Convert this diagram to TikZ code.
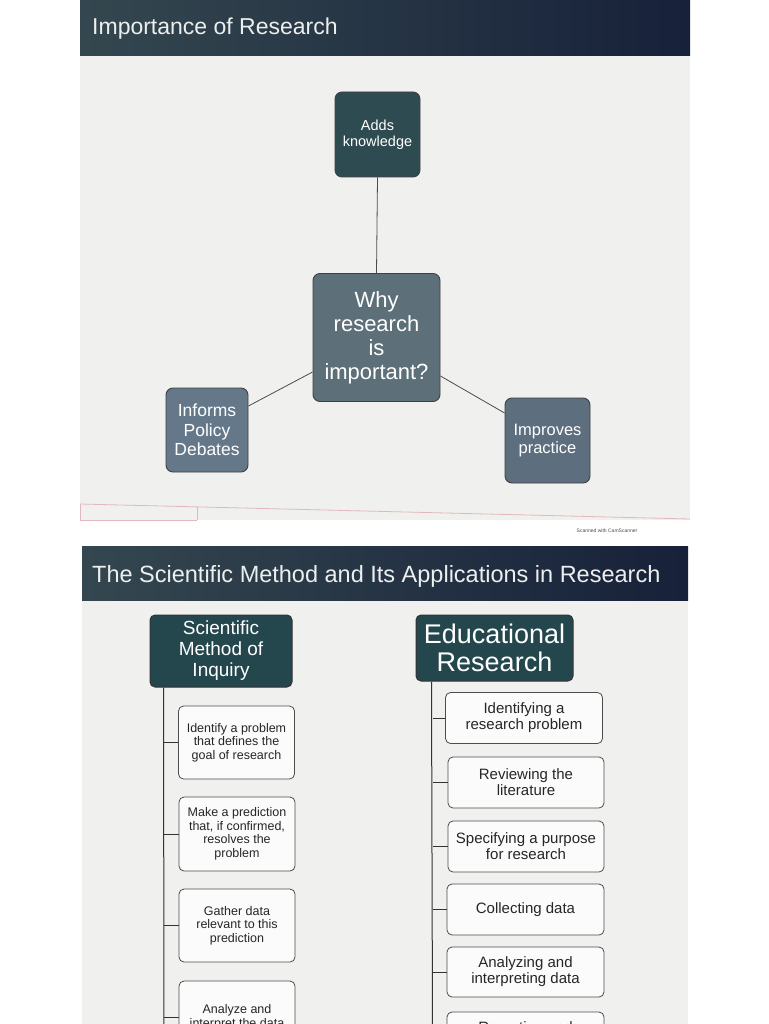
\documentclass[tikz,border=0pt]{standalone}
\usepackage{fontspec}
\setmainfont{Liberation Sans}
\usetikzlibrary{calc}
\definecolor{bannerL}{HTML}{34474F}
\definecolor{bannerR}{HTML}{17213A}
\definecolor{darkteal}{HTML}{24474E}
\definecolor{addsfill}{HTML}{2F4B52}
\definecolor{centerfill}{HTML}{5D6F79}
\definecolor{sidefill}{HTML}{65788A}
\definecolor{slidebg}{HTML}{F0F0EE}
\definecolor{titletext}{HTML}{ECEFEF}
\definecolor{pinkline}{HTML}{E2B8BE}
\newcommand{\fs}[2]{\fontsize{#1}{#2}\selectfont}
\tikzset{
  banner/.style={left color=bannerL, right color=bannerR, draw=none},
  bannertitle/.style={anchor=base west, text=titletext, inner sep=0pt},
  slidebox/.style={rounded corners=7pt, draw=black!75, line width=0.9pt, align=center, text=white, inner sep=0pt},
  hdrbox/.style={rounded corners=5pt, draw=black!80, line width=1pt, fill=darkteal, align=center, text=white, inner sep=0pt},
  stepbox/.style={rounded corners=5pt, draw=black!70, line width=0.8pt, fill=white!97!gray, align=center, text=black!85, inner sep=0pt},
  link/.style={draw=black!70, line width=0.8pt},
  trunk/.style={draw=black!80, line width=1pt}
}
\begin{document}
\begin{tikzpicture}[x=1pt,y=-1pt]
\useasboundingbox (0,0) rectangle (768,1024);
\clip (0,0) rectangle (768,1024);
\fill[white] (0,0) rectangle (768,1024);
% ---------- slide 1 ----------
\fill[slidebg] (80,56) rectangle (690,520);
\fill[banner] (80,0) rectangle (690,56);
\node[bannertitle, font=\fs{23}{26}] (t1) at (92,35) {Importance of Research};
% faint pink lines
\draw[pinkline, line width=0.8pt] (80,504) -- (690,519);
\draw[pinkline, line width=0.8pt] (80,504) -- (80,520) -- (197,520);
\draw[pinkline, line width=0.8pt] (197,507) -- (197,520);
\node[font=\fs{5}{6}, text=black!70, inner sep=0pt] (scan) at (607,531) {Scanned with CamScanner};

\node[slidebox, fill=addsfill, minimum width=85pt, minimum height=85pt, font=\fs{14.5}{16}] (adds) at (377.5,134.5) {Adds\\knowledge};
\node[slidebox, fill=centerfill, minimum width=127pt, minimum height=128pt, font=\fs{22}{24}] (why) at (376.5,337.5) {Why\\research\\is\\important?};
\node[slidebox, fill=sidefill, minimum width=82pt, minimum height=84pt, font=\fs{17.5}{19.5}] (inf) at (207,430) {Informs\\Policy\\Debates};
\node[slidebox, fill=sidefill!92!black, minimum width=85pt, minimum height=85pt, font=\fs{16.5}{18}] (imp) at (547.5,440.5) {Improves\\practice};
\draw[link] (adds.south) -- (why.north);
\draw[link] (why.west |- 0,372) -- (inf.east |- 0,406);
\draw[link] (why.east |- 0,376) -- (imp.west |- 0,413);

% ---------- slide 2 ----------
\fill[slidebg] (82,600) rectangle (688,1024);
\fill[banner] (82,546) rectangle (688,600);
\node[bannertitle, font=\fs{23.5}{26}] (t2) at (92,582) {The Scientific Method and Its Applications in Research};

% left column
\node[hdrbox, minimum width=142pt, minimum height=72pt, font=\fs{19}{21}] (hl) at (221,651) {Scientific\\Method of\\Inquiry};
\node[stepbox, minimum width=116pt, minimum height=73pt, font=\fs{12.5}{13.5}] (l1) at (236.5,742.5) {Identify a problem\\that defines the\\goal of research};
\node[stepbox, minimum width=116pt, minimum height=74pt, font=\fs{12.5}{13.5}] (l2) at (237,834) {Make a prediction\\that, if confirmed,\\resolves the\\problem};
\node[stepbox, minimum width=116pt, minimum height=73pt, font=\fs{12.5}{13.5}] (l3) at (237,925.5) {Gather data\\relevant to this\\prediction};
\node[stepbox, minimum width=116pt, minimum height=73pt, font=\fs{12.5}{13.5}] (l4) at (237,1017.5) {Analyze and\\interpret the data};
\coordinate (lt) at (164,1030);
\draw[trunk] ([xshift=14pt]hl.south west) -- (lt);
\foreach \n in {l1,l2,l3,l4} \draw[trunk] (\n.west) -- (\n.west -| lt);

% right column
\node[hdrbox, minimum width=157pt, minimum height=66pt, font=\fs{27}{28}] (hr) at (494.5,648) {Educational\\Research};
\node[stepbox, minimum width=157pt, minimum height=51pt, font=\fs{15}{16}] (r1) at (524,718) {Identifying a\\research problem};
\node[stepbox, minimum width=156pt, minimum height=51pt, font=\fs{15}{16}] (r2) at (526,782.5) {Reviewing the\\literature};
\node[stepbox, minimum width=156pt, minimum height=51pt, font=\fs{15}{16}] (r3) at (526,846.5) {Specifying a purpose\\for research};
\node[stepbox, minimum width=157pt, minimum height=51pt, font=\fs{15}{16}] (r4) at (525.5,909.5) {Collecting data};
\node[stepbox, minimum width=157pt, minimum height=50pt, font=\fs{15}{16}] (r5) at (525.5,972) {Analyzing and\\interpreting data};
\node[stepbox, minimum width=157pt, minimum height=50pt, font=\fs{15}{16}] (r6) at (525.5,1037) {Reporting and\\evaluating research};
\coordinate (rt) at (432.5,1030);
\draw[trunk] ([xshift=16pt]hr.south west) -- (rt);
\foreach \n in {r1,r2,r3,r4,r5,r6} \draw[trunk] (\n.west) -- (\n.west -| rt);
\end{tikzpicture}
\end{document}
